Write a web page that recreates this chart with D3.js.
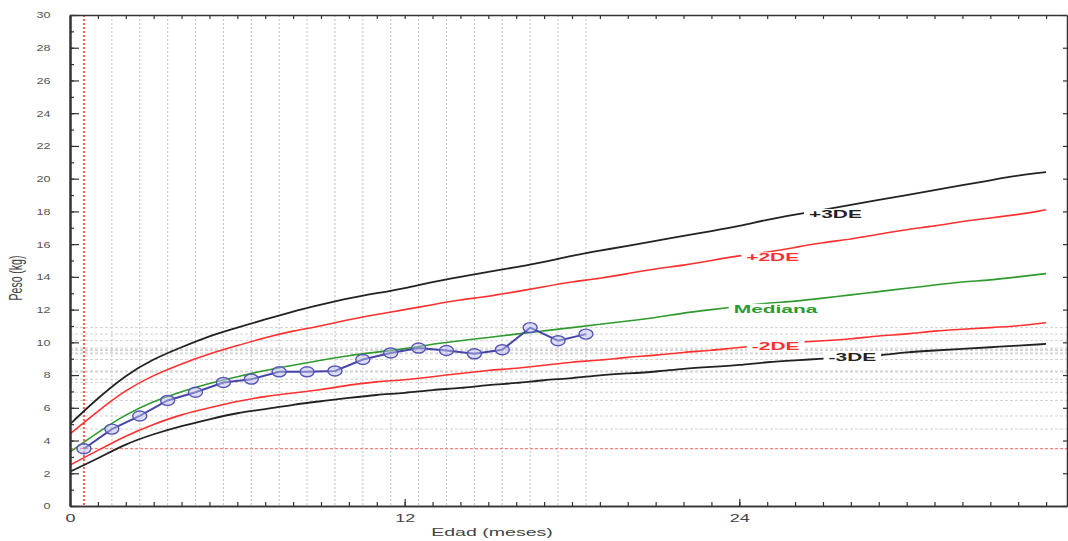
<!DOCTYPE html>
<meta charset="utf-8">
<head>
    <title>Peso para la edad</title>
    <script type="text/javascript" src="https://cdn.jsdelivr.net/npm/d3@7"></script>
    <style>
        body { margin: 0; background: #fff; }
        text { font-family: "Liberation Sans", Arial, sans-serif; }
    </style>
</head>
<body>
<script>
    // edades (meses) de las curvas de referencia
    var meses = [0,1,2,3,4,5,6,7,8,9,10,11,12,13,14,15,16,17,18,19,20,21,22,23,24,25,26,27,28,29,30,31,32,33,34,35];

    // curvas de referencia (kg)
    var menos3DE = [2.1,2.9,3.8,4.4,4.9,5.3,5.7,5.9,6.2,6.4,6.6,6.8,6.9,7.1,7.2,7.4,7.5,7.7,7.8,8.0,8.1,8.2,8.4,8.5,8.6,8.8,8.9,9.0,9.1,9.2,9.4,9.5,9.6,9.7,9.8,9.9];
    var menos2DE = [2.5,3.4,4.3,5.0,5.6,6.0,6.4,6.7,6.9,7.1,7.4,7.6,7.7,7.9,8.1,8.3,8.4,8.6,8.8,8.9,9.1,9.2,9.4,9.5,9.7,9.8,10.0,10.1,10.2,10.4,10.5,10.7,10.8,10.9,11.0,11.2];
    var mediana  = [3.3,4.5,5.6,6.4,7.0,7.5,7.9,8.3,8.6,8.9,9.2,9.4,9.6,9.9,10.1,10.3,10.5,10.7,10.9,11.1,11.3,11.5,11.8,12.0,12.2,12.4,12.5,12.7,12.9,13.1,13.3,13.5,13.7,13.8,14.0,14.2];
    var mas2DE   = [4.4,5.8,7.1,8.0,8.7,9.3,9.8,10.3,10.7,11.0,11.4,11.7,12.0,12.3,12.6,12.8,13.1,13.4,13.7,13.9,14.2,14.5,14.7,15.0,15.3,15.5,15.8,16.1,16.3,16.6,16.9,17.1,17.4,17.6,17.8,18.1];
    var mas3DE   = [5.0,6.6,8.0,9.0,9.7,10.4,10.9,11.4,11.9,12.3,12.7,13.0,13.3,13.7,14.0,14.3,14.6,14.9,15.3,15.6,15.9,16.2,16.5,16.8,17.1,17.5,17.8,18.1,18.4,18.7,19.0,19.3,19.6,19.9,20.2,20.4];

    // controles del paciente
    var edadPaciente = [0.5,1.5,2.5,3.5,4.5,5.5,6.5,7.5,8.5,9.5,10.5,11.5,12.5,13.5,14.5,15.5,16.5,17.5,18.5];
    var pesoPaciente = [3.5,4.7,5.5,6.45,6.95,7.55,7.75,8.2,8.2,8.25,8.95,9.35,9.65,9.5,9.3,9.55,10.9,10.1,10.5];

    // ejes
    var xTicks = [0,12,24];
    var yTicks = [0,2,4,6,8,10,12,14,16,18,20,22,24,26,28,30];
    var yTicksMenor = [0,1,2,3,4,5,6,7,8,9,10,11,12,13,14,15,16,17,18,19,20,21,22,23,24,25,26,27,28,29,30];

    // etiquetas de las curvas
    var etiquetas = ["+3DE","+2DE","Mediana","-2DE","-3DE"];
    var etiquetaMes = [26.5,24.25,23.8,24.45,27.2];
    var etiquetaPeso = [17.85,15.2,12.05,9.8,9.1];
    var etiquetaColor = ["#222","#ff3030","#2e9a2e","#ff3030","#222"];

    var width = 1068, height = 541;
    var margin = {top:15, right:1, left:70, bottom:35};

    var svg = d3.select('body').append('svg')
        .attr('width', width)
        .attr('height', height);

    var x = d3.scaleLinear().domain([0, 35.75]).range([margin.left, width - margin.right]);
    var y = d3.scaleLinear().domain([0, 30]).range([height - margin.bottom, margin.top]);

    var x0 = margin.left, x1 = width - margin.right;
    var y0 = height - margin.bottom, y1 = margin.top;

    // lineas guia punteadas
    var guias = svg.append('g').attr('id', 'guias');
    guias.selectAll('.gv')
        .data(edadPaciente.slice(1))
        .enter().append('line')
        .attr('x1', function(d){ return x(d); })
        .attr('x2', function(d){ return x(d); })
        .attr('y1', y1).attr('y2', y0)
        .attr('stroke', '#cacaca')
        .attr('stroke-width', 1.2)
        .attr('stroke-dasharray', '2,2');

    guias.selectAll('.gh')
        .data(pesoPaciente.slice(1))
        .enter().append('line')
        .attr('x1', x0).attr('x2', x1)
        .attr('y1', function(d){ return y(d); })
        .attr('y2', function(d){ return y(d); })
        .attr('stroke', '#d2d2d2')
        .attr('stroke-width', 1)
        .attr('stroke-dasharray', '3,2');

    // primer control en rojo
    guias.append('line')
        .attr('x1', x(edadPaciente[0])).attr('x2', x(edadPaciente[0]))
        .attr('y1', y1).attr('y2', y0)
        .attr('stroke', '#ff5a5a')
        .attr('stroke-width', 2)
        .attr('stroke-dasharray', '2,2');
    guias.append('line')
        .attr('x1', x0).attr('x2', x1)
        .attr('y1', y(pesoPaciente[0])).attr('y2', y(pesoPaciente[0]))
        .attr('stroke', '#ff8080')
        .attr('stroke-width', 1.2)
        .attr('stroke-dasharray', '3,2');

    // curvas de referencia
    var line = d3.line()
        .x(function(d){ return x(d[0]); })
        .y(function(d){ return y(d[1]); })
        .curve(d3.curveBasis);

    var curvas = [
        {v: menos3DE, c: '#222', w: 1.8},
        {v: menos2DE, c: '#ff3030', w: 1.6},
        {v: mediana,  c: '#2e9a2e', w: 1.6},
        {v: mas2DE,   c: '#ff3030', w: 1.6},
        {v: mas3DE,   c: '#222', w: 1.8}
    ];

    svg.append('g').attr('id', 'curvas')
        .selectAll('path')
        .data(curvas)
        .enter().append('path')
        .attr('fill', 'none')
        .attr('stroke', function(d){ return d.c; })
        .attr('stroke-width', function(d){ return d.w; })
        .attr('d', function(d){
            return line(meses.map(function(m, i){ return [m, d.v[i]]; }));
        });

    // etiquetas con fondo blanco que corta la curva
    var etq = svg.append('g').attr('id', 'etiquetas');
    etiquetas.forEach(function(t, i){
        var g = etq.append('g')
            .attr('transform', 'translate(' + x(etiquetaMes[i]) + ',' + y(etiquetaPeso[i]) + ')');
        var bg = g.append('rect').attr('fill', '#fff');
        var txt = g.append('text')
            .attr('transform', 'scale(1.9,1)')
            .attr('dy', '0.36em')
            .attr('font-size', 11)
            .attr('font-weight', 'bold')
            .attr('fill', etiquetaColor[i])
            .text(t);
        var b = txt.node().getBBox();
        bg.attr('x', -5).attr('y', b.y + 1)
          .attr('width', b.width * 1.9 + 10)
          .attr('height', b.height - 2);
    });

    // paciente
    var pac = edadPaciente.map(function(e, i){ return [e, pesoPaciente[i]]; });
    svg.append('path')
        .attr('fill', 'none')
        .attr('stroke', '#4646a6')
        .attr('stroke-width', 2)
        .attr('d', d3.line().x(function(d){ return x(d[0]); }).y(function(d){ return y(d[1]); })(pac));

    svg.append('g').attr('id', 'paciente')
        .selectAll('ellipse')
        .data(pac)
        .enter().append('ellipse')
        .attr('cx', function(d){ return x(d[0]); })
        .attr('cy', function(d){ return y(d[1]); })
        .attr('rx', 7)
        .attr('ry', 5)
        .attr('fill', 'rgba(190,190,235,0.5)')
        .attr('stroke', '#5555b8')
        .attr('stroke-width', 1.4);

    // ejes
    function estilo(g, w){
        g.select('.domain').attr('stroke', '#333').attr('stroke-width', w);
        g.selectAll('.tick line').attr('stroke', '#333').attr('stroke-width', 1.2);
    }

    var abajoMenor = svg.append('g')
        .attr('transform', 'translate(0,' + y0 + ')')
        .call(d3.axisBottom(x).tickValues(meses).tickFormat('').tickSizeInner(-4).tickSizeOuter(0));
    estilo(abajoMenor, 1.5);

    var abajo = svg.append('g')
        .attr('transform', 'translate(0,' + y0 + ')')
        .call(d3.axisBottom(x).tickValues(xTicks).tickFormat(d3.format('d')).tickSizeInner(-7).tickSizeOuter(0).tickPadding(9));
    estilo(abajo, 1.5);
    abajo.selectAll('text')
        .attr('font-size', 10)
        .attr('fill', '#444')
        .attr('transform', 'scale(1.8,1)');

    var arriba = svg.append('g')
        .attr('transform', 'translate(0,' + y1 + ')')
        .call(d3.axisTop(x).tickValues(meses).tickFormat('').tickSizeInner(-4).tickSizeOuter(0));
    estilo(arriba, 1.5);

    var izqMenor = svg.append('g')
        .attr('transform', 'translate(' + x0 + ',0)')
        .call(d3.axisLeft(y).tickValues(yTicksMenor).tickFormat('').tickSizeInner(-4).tickSizeOuter(0));
    estilo(izqMenor, 2);

    var izq = svg.append('g')
        .attr('transform', 'translate(' + x0 + ',0)')
        .call(d3.axisLeft(y).tickValues(yTicks).tickFormat(d3.format('d')).tickSizeInner(-9).tickSizeOuter(0).tickPadding(14));
    estilo(izq, 2);
    izq.selectAll('text')
        .attr('font-size', 9)
        .attr('fill', '#555')
        .attr('transform', 'scale(1.4,1)');

    var der = svg.append('g')
        .attr('transform', 'translate(' + x1 + ',0)')
        .call(d3.axisRight(y).tickValues(yTicks).tickFormat('').tickSizeInner(-4).tickSizeOuter(0));
    estilo(der, 1.5);

    // titulos de ejes
    svg.append('text')
        .attr('transform', 'translate(' + 492 + ',' + 536 + ') scale(1.7,1)')
        .attr('text-anchor', 'middle')
        .attr('font-size', 11.5)
        .attr('fill', '#444')
        .text('Edad (meses)');

    svg.append('text')
        .attr('transform', 'translate(' + 22 + ',' + 278 + ') scale(1.7,1) rotate(-90)')
        .attr('text-anchor', 'middle')
        .attr('font-size', 10.5)
        .attr('fill', '#444')
        .text('Peso (kg)');
</script>
</body>
</html>
